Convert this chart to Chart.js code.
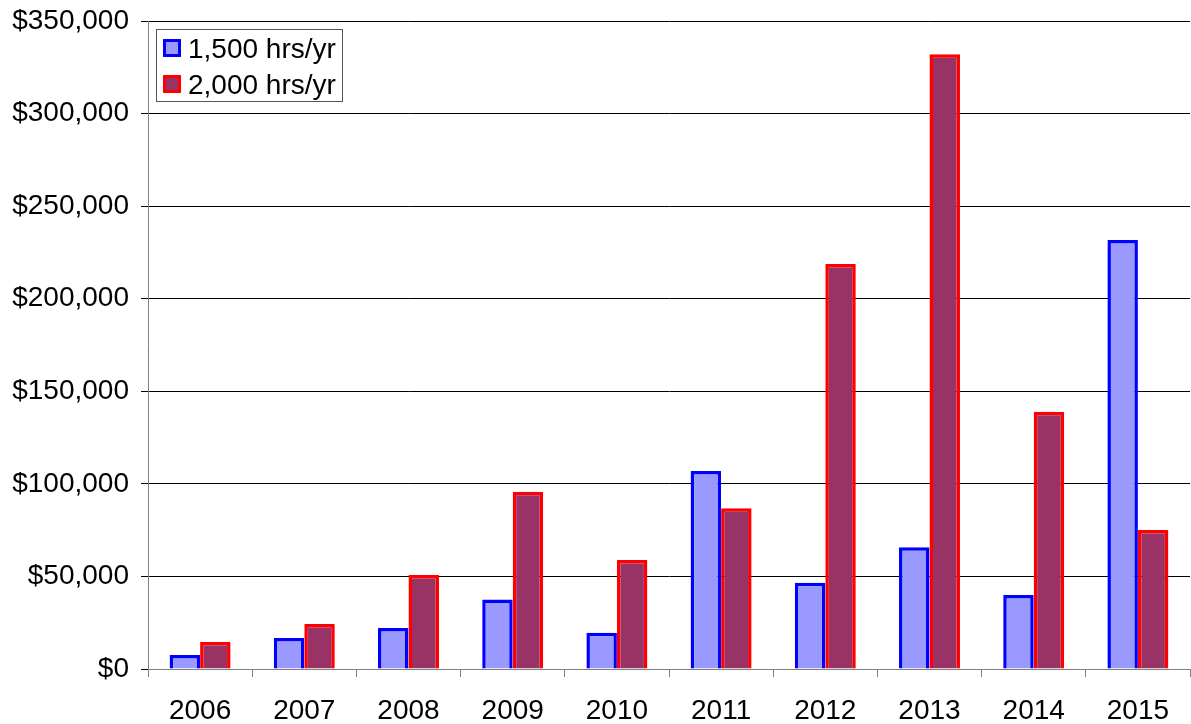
<!DOCTYPE html>
<html>
<head>
<meta charset="utf-8">
<script src="https://cdn.jsdelivr.net/npm/chart.js@4.4.0/dist/chart.umd.min.js"></script>
<style>
  html, body { margin: 0; padding: 0; background: #fff; }
  #wrap { width: 1191px; height: 724px; position: relative; }
</style>
</head>
<body>
<div id="wrap"><canvas id="c" width="1191" height="724"></canvas></div>
<script>
const categories = ['2006','2007','2008','2009','2010','2011','2012','2013','2014','2015'];
const series1Label = '1,500 hrs/yr';
const series1Values = [7600, 16700, 22100, 37600, 19600, 106900, 46600, 65700, 40000, 231700];
const series2Label = '2,000 hrs/yr';
const series2Values = [14600, 24300, 50800, 95800, 58900, 86800, 218800, 332000, 139000, 75100];
const yMax = 350000;
const yStep = 50000;

const FONT = '"Liberation Sans", Arial, sans-serif';
const FSIZE = 28;

const legendPlugin = {
  id: 'boxLegend',
  afterDraw(chart) {
    const ctx = chart.ctx;
    const x0 = 156, y0 = 29, w = 186, h = 72;
    ctx.save();
    ctx.fillStyle = '#ffffff';
    ctx.fillRect(x0, y0, w, h);
    ctx.strokeStyle = '#555555';
    ctx.lineWidth = 1;
    ctx.strokeRect(x0 + 0.5, y0 + 0.5, w, h);
    ctx.font = FSIZE + 'px ' + FONT;
    ctx.textBaseline = 'middle';
    chart.data.datasets.forEach((ds, i) => {
      const cy = 48 + i * 36;
      ctx.fillStyle = ds.backgroundColor;
      ctx.fillRect(163, cy - 9, 18, 18);
      ctx.strokeStyle = ds.borderColor;
      ctx.lineWidth = 3;
      ctx.strokeRect(164.5, cy - 7.5, 15, 15);
      ctx.fillStyle = '#000';
      ctx.fillText(ds.label, 188, cy + 2);
    });
    ctx.restore();
  }
};

new Chart(document.getElementById('c'), {
  type: 'bar',
  data: {
    labels: categories,
    datasets: [
      { label: series1Label, data: series1Values, backgroundColor: '#9999FF', borderColor: '#0000FF', borderWidth: 3.5, categoryPercentage: 0.585, barPercentage: 1.0 },
      { label: series2Label, data: series2Values, backgroundColor: '#993366', borderColor: '#FF0000', borderWidth: 3.5, categoryPercentage: 0.585, barPercentage: 1.0 }
    ]
  },
  options: {
    responsive: false,
    animation: false,
    devicePixelRatio: 1,
    layout: { padding: { top: 21, right: 1, bottom: 0, left: 0 } },
    plugins: { legend: { display: false }, tooltip: { enabled: false } },
    scales: {
      x: {
        grid: { offset: true, drawOnChartArea: false, drawTicks: true, tickLength: 8, color: '#808080' },
        border: { color: '#808080', width: 1 },
        ticks: { color: '#000', font: { size: FSIZE, family: FONT }, padding: 17, maxRotation: 0 },
        afterFit(scale) { scale.height = 55; scale.paddingLeft = 0; scale.paddingRight = 0; }
      },
      y: {
        min: 0, max: yMax,
        ticks: { stepSize: yStep, color: '#000', font: { size: FSIZE, family: FONT }, padding: 12,
          callback: v => '$' + Number(v).toLocaleString('en-US') },
        grid: { color: '#000000', lineWidth: 1, tickLength: 7, drawTicks: true },
        border: { color: '#808080', width: 1 },
        afterFit(scale) { scale.width = 148; scale.paddingTop = 0; scale.paddingBottom = 0; }
      }
    }
  },
  plugins: [legendPlugin]
});
</script>
</body>
</html>
